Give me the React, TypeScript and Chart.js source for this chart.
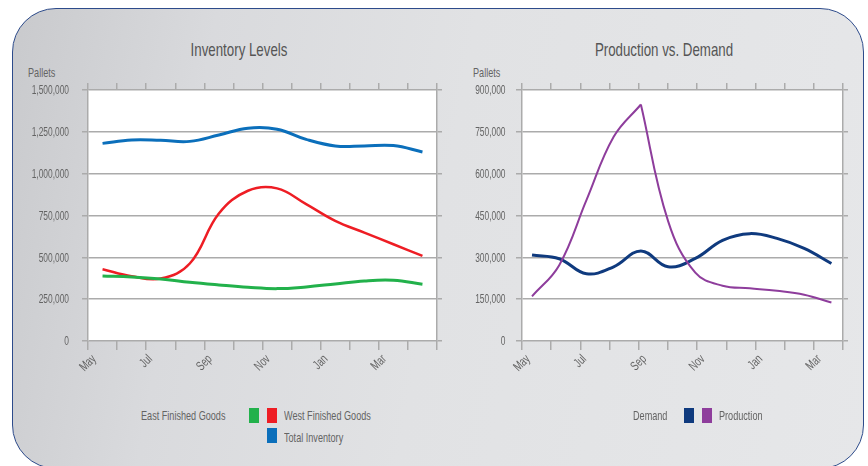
import React, { useEffect, useRef } from "react";
import { Chart, registerables } from "chart.js";

Chart.register(...registerables);

// ---------- data ----------
const MONTHS = ["May", "Jun", "Jul", "Aug", "Sep", "Oct", "Nov", "Dec", "Jan", "Feb", "Mar", "Apr"];

// labels printed at the tick marks (category boundaries)
const INV_TICK_LABELS = ["May", "", "Jul", "", "Sep", "", "Nov", "", "Jan", "", "Mar", "", ""];
const PD_TICK_LABELS = ["May", "", "Jul", "", "Sep", "", "Nov", "", "Jan", "", "Mar", ""];

const EAST_FINISHED = [389000, 383000, 371000, 351000, 335000, 321000, 313000, 323000, 341000, 359000, 363000, 339000];
const WEST_FINISHED = [429000, 387000, 373000, 463000, 762000, 898000, 912000, 818000, 718000, 648000, 578000, 509000];
const TOTAL_INVENTORY = [1181000, 1201000, 1199000, 1193000, 1231000, 1272000, 1266000, 1205000, 1166000, 1166000, 1168000, 1130000];

const DEMAND = [308000, 295000, 241000, 266000, 323000, 266000, 296000, 361000, 385000, 368000, 332000, 278000];
const PRODUCTION = [160000, 272000, 505000, 732000, 848000, 430000, 245000, 198000, 189000, 180000, 166000, 138000];

const INV_Y_MAX = 1500000;
const INV_Y_STEP = 250000;
const PD_Y_MAX = 900000;
const PD_Y_STEP = 150000;

// ---------- styles ----------
const FONT = '"Liberation Sans", Arial, sans-serif';
const SQUEEZE = 0.7; // condensed look
const TEXT = "#646464";
const GRID = "#ababab";
const C_EAST = "#22b14b";
const C_WEST = "#ee1d24";
const C_TOTAL = "#0b6fbb";
const C_DEMAND = "#0f3a7e";
const C_PROD = "#8e3d9c";

const whiteArea = {
  id: "whiteArea",
  beforeDraw(chart: any) {
    const { ctx, chartArea: a } = chart;
    ctx.save();
    ctx.fillStyle = "#ffffff";
    ctx.fillRect(a.left, a.top, a.right - a.left, a.bottom - a.top);
    ctx.restore();
  },
};

// condensed tick labels drawn from the scales
const condensedLabels = {
  id: "condensedLabels",
  afterDraw(chart: any, _args: any, opts: any) {
    const { ctx, chartArea } = chart;
    ctx.save();
    ctx.fillStyle = TEXT;
    // y axis labels
    const ys = chart.scales.y;
    ctx.font = `12px ${FONT}`;
    ctx.textAlign = "right";
    ctx.textBaseline = "middle";
    ys.ticks.forEach((t: any) => {
      const y = ys.getPixelForValue(t.value);
      ctx.save();
      ctx.translate(chartArea.left - opts.yGap, y + 1);
      ctx.scale(SQUEEZE, 1);
      ctx.fillText(Number(t.value).toLocaleString("en-US"), 0, 0);
      ctx.restore();
    });
    // x axis labels, rotated, centred on the tick marks
    const xs = chart.scales.x;
    const labels: string[] = opts.xLabels || [];
    ctx.font = `13px ${FONT}`;
    ctx.textAlign = "center";
    labels.forEach((lab, i) => {
      if (!lab) return;
      const x = xs.getPixelForValue(i);
      const w = ctx.measureText(lab).width * SQUEEZE;
      const cy = opts.xTop + ((w + 9) * Math.SQRT1_2) / 2;
      ctx.save();
      ctx.translate(x, cy);
      ctx.rotate(-Math.PI / 4);
      ctx.scale(SQUEEZE, 1);
      ctx.fillText(lab, 0, 0);
      ctx.restore();
    });
    ctx.restore();
  },
};

function axisX(max: number, position: string, tickLength: number, height: number) {
  return {
    type: "linear",
    position,
    min: 0,
    max,
    ticks: { display: false, stepSize: 1 },
    grid: { drawOnChartArea: false, drawTicks: true, tickLength, color: GRID, lineWidth: 1.5 },
    border: { display: false },
    afterFit(s: any) {
      s.height = height;
    },
  };
}

function axisY(max: number, step: number, width: number) {
  return {
    type: "linear",
    position: "left",
    min: 0,
    max,
    ticks: { display: false, stepSize: step },
    grid: { color: GRID, lineWidth: 1.5, tickLength: 6 },
    border: { display: true, color: GRID, width: 1.5 },
    afterFit(s: any) {
      s.width = width;
    },
  };
}

function axisYRight(max: number, step: number) {
  return {
    type: "linear",
    position: "right",
    min: 0,
    max,
    ticks: { display: false, stepSize: step },
    grid: { drawOnChartArea: false, color: GRID, lineWidth: 1.5, tickLength: 5 },
    border: { display: true, color: GRID, width: 1.5 },
    afterFit(s: any) {
      s.width = 5;
    },
  };
}

function InventoryChart() {
  const ref = useRef<HTMLCanvasElement>(null);
  useEffect(() => {
    if (!ref.current) return;
    const chart = new Chart(ref.current, {
      type: "line",
      data: {
        labels: MONTHS,
        datasets: [
          { label: "East Finished Goods", data: EAST_FINISHED, borderColor: C_EAST, borderWidth: 3, xAxisID: "xd", yAxisID: "y" },
          { label: "West Finished Goods", data: WEST_FINISHED, borderColor: C_WEST, borderWidth: 2.5, xAxisID: "xd", yAxisID: "y" },
          { label: "Total Inventory", data: TOTAL_INVENTORY, borderColor: C_TOTAL, borderWidth: 3, xAxisID: "xd", yAxisID: "y" },
        ],
      },
      options: {
        responsive: false,
        devicePixelRatio: 1,
        animation: false,
        layout: { padding: { left: 0, right: 8, top: 0, bottom: 0 } },
        elements: { point: { radius: 0 }, line: { tension: 0.4 } },
        plugins: {
          legend: { display: false },
          tooltip: { enabled: false },
          condensedLabels: { xLabels: INV_TICK_LABELS, xTop: 354, yGap: 19 },
        } as any,
        scales: {
          xd: { type: "category", display: false, offset: true },
          x: axisX(12, "bottom", 9, 59),
          xTop: axisX(12, "top", 7, 90),
          y: axisY(INV_Y_MAX, INV_Y_STEP, 88),
          yRight: axisYRight(INV_Y_MAX, INV_Y_STEP),
        } as any,
      },
      plugins: [whiteArea, condensedLabels],
    });
    return () => chart.destroy();
  }, []);
  return <canvas ref={ref} width={450} height={400} style={{ position: "absolute", left: 0, top: 0, width: 450, height: 400 }} />;
}

function ProductionChart() {
  const ref = useRef<HTMLCanvasElement>(null);
  useEffect(() => {
    if (!ref.current) return;
    const peak = PRODUCTION.indexOf(Math.max(...PRODUCTION));
    const demandPts = DEMAND.map((v, i) => ({ x: i, y: v }));
    const prodRise = PRODUCTION.slice(0, peak + 1).map((v, i) => ({ x: i, y: v }));
    const prodFall = PRODUCTION.slice(peak).map((v, i) => ({ x: i + peak, y: v }));
    const chart = new Chart(ref.current, {
      type: "line",
      data: {
        datasets: [
          { label: "Production", data: prodRise, borderColor: C_PROD, borderWidth: 2, xAxisID: "xd", yAxisID: "y" },
          { label: "Production ", data: prodFall, borderColor: C_PROD, borderWidth: 2, xAxisID: "xd", yAxisID: "y" },
          { label: "Demand", data: demandPts, borderColor: C_DEMAND, borderWidth: 3, xAxisID: "xd", yAxisID: "y" },
        ],
      },
      options: {
        responsive: false,
        devicePixelRatio: 1,
        animation: false,
        layout: { padding: { left: 0, right: 20, top: 0, bottom: 0 } },
        elements: { point: { radius: 0 }, line: { tension: 0.4 } },
        plugins: {
          legend: { display: false },
          tooltip: { enabled: false },
          condensedLabels: { xLabels: PD_TICK_LABELS, xTop: 354, yGap: 16.5 },
        } as any,
        scales: {
          xd: { type: "linear", display: false, min: -0.368, max: 11.426 },
          x: axisX(11, "bottom", 9, 59),
          xTop: axisX(11, "top", 7, 90),
          y: axisY(PD_Y_MAX, PD_Y_STEP, 82),
          yRight: axisYRight(PD_Y_MAX, PD_Y_STEP),
        } as any,
      },
      plugins: [whiteArea, condensedLabels],
    });
    return () => chart.destroy();
  }, []);
  return <canvas ref={ref} width={428} height={400} style={{ position: "absolute", left: 440, top: 0, width: 428, height: 400 }} />;
}

const txt = (left: number, top: number, size: number, content: string, extra: any = {}) => (
  <div
    style={{
      position: "absolute",
      left,
      top,
      fontFamily: FONT,
      fontSize: size,
      lineHeight: `${size + 4}px`,
      color: TEXT,
      whiteSpace: "nowrap",
      transform: `scaleX(${SQUEEZE})`,
      transformOrigin: "left top",
      ...extra,
    }}
  >
    {content}
  </div>
);

const box = (left: number, top: number, color: string) => (
  <div style={{ position: "absolute", left, top, width: 10, height: 15, background: color }} />
);

export default function App() {
  return (
    <div style={{ position: "absolute", left: 0, top: 0, width: 868, height: 466, background: "#ffffff", overflow: "hidden" }}>
      <div
        style={{
          position: "absolute",
          left: 12,
          top: 8,
          width: 852,
          height: 461,
          boxSizing: "border-box",
          border: "1.5px solid #2d4b8b",
          borderRadius: 44,
          background: "linear-gradient(100deg, #c9cacd 0%, #d9dadd 22%, #e1e2e4 50%, #e6e7e9 100%)",
        }}
      />
      {txt(89, 38, 19, "Inventory Levels", { width: 300, textAlign: "center", color: "#555555", transformOrigin: "center top" })}
      {txt(514, 38, 19, "Production vs. Demand", { width: 300, textAlign: "center", color: "#555555", transformOrigin: "center top" })}
      {txt(28, 64, 13, "Pallets")}
      {txt(473, 64, 13, "Pallets")}
      <InventoryChart />
      <ProductionChart />
      {txt(141, 407, 13, "East Finished Goods")}
      {box(249, 408, C_EAST)}
      {box(267, 408, C_WEST)}
      {txt(284, 407, 13, "West Finished Goods")}
      {box(267, 428, C_TOTAL)}
      {txt(284, 429, 13, "Total Inventory")}
      {txt(633, 407, 13, "Demand")}
      {box(684, 408, C_DEMAND)}
      {box(702, 408, C_PROD)}
      {txt(719, 407, 13, "Production")}
    </div>
  );
}
